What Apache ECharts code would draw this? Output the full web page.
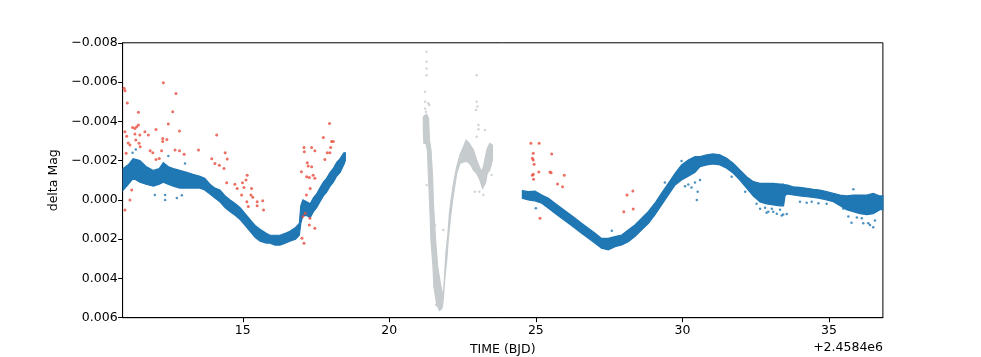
<!DOCTYPE html>
<html>
<head>
<meta charset="utf-8">
<script src="https://cdn.jsdelivr.net/npm/echarts@6/dist/echarts.min.js"></script>
<style>
  html, body { margin: 0; background: #fff; }
  #chart { width: 981px; height: 357px; }
</style>
</head>
<body>
<div id="chart"></div>
<script>
// values (x = TIME - 2458400, y = delta Mag)
var xTicks = [15, 20, 25, 30, 35];
var xOffsetText = '+2.4584e6';

// blue band before the gap: [x, upper edge, lower edge]
var blueBand1 = [
  [10.92, -0.0016, -0.0005], [11.10, -0.0018, -0.0008], [11.26, -0.0021, -0.0011],
  [11.49, -0.0020, -0.0009], [11.70, -0.0017, -0.0008], [11.95, -0.0015, -0.0007],
  [12.15, -0.0016, -0.0008], [12.29, -0.0019, -0.0009], [12.45, -0.0017, -0.0008],
  [12.63, -0.0016, -0.0007], [12.85, -0.0015, -0.0006], [13.09, -0.0014, -0.0006],
  [13.30, -0.0013, -0.0006], [13.54, -0.0012, -0.0006], [13.70, -0.0011, -0.0005],
  [13.88, -0.0008, -0.0003], [14.05, -0.0006, -0.0001], [14.22, -0.0005, 0.0001],
  [14.40, -0.0002, 0.0004], [14.57, 0.0000, 0.0006], [14.75, 0.0002, 0.0008],
  [14.91, 0.0004, 0.0010], [15.08, 0.0007, 0.0013], [15.25, 0.0010, 0.0016],
  [15.42, 0.0013, 0.0019], [15.59, 0.0015, 0.0021], [15.80, 0.0017, 0.0022],
  [15.93, 0.0018, 0.0022], [16.10, 0.0018, 0.0023], [16.27, 0.0018, 0.0023],
  [16.45, 0.0017, 0.0022], [16.61, 0.0016, 0.0021], [16.80, 0.0014, 0.0020],
  [16.93, 0.0012, 0.0018], [16.98, 0.0003, 0.0012], [17.05, 0.0000, 0.0008],
  [17.18, 0.0001, 0.0008], [17.30, 0.0002, 0.0009], [17.41, -0.0001, 0.0006],
  [17.52, -0.0003, 0.0004], [17.63, -0.0006, 0.0001], [17.75, -0.0009, -0.0002],
  [17.86, -0.0011, -0.0004], [17.98, -0.0014, -0.0007], [18.09, -0.0016, -0.0009],
  [18.20, -0.0019, -0.0012], [18.32, -0.0021, -0.0014], [18.45, -0.0024, -0.0018],
  [18.50, -0.0024, -0.0020]
];

// blue band after the gap
var blueBand2 = [
  [24.54, -0.00047, -0.00008], [24.74, -0.00042, 0.0000], [24.97, -0.00045, 0.00005],
  [25.20, -0.00025, 0.00017], [25.43, -0.00008, 0.00043], [25.65, 0.00017, 0.00068],
  [25.88, 0.00043, 0.00093], [26.11, 0.00068, 0.00119], [26.34, 0.00093, 0.00144],
  [26.56, 0.00119, 0.00170], [26.79, 0.00144, 0.00196], [27.02, 0.00170, 0.00221],
  [27.24, 0.00196, 0.00246], [27.47, 0.00196, 0.00255], [27.70, 0.00187, 0.00238],
  [27.93, 0.00179, 0.00230], [28.15, 0.00153, 0.00213], [28.38, 0.00128, 0.00187],
  [28.61, 0.00093, 0.00153], [28.84, 0.00059, 0.00119], [29.06, 0.00017, 0.00076],
  [29.29, -0.00034, 0.00025], [29.52, -0.00084, -0.00025], [29.75, -0.00135, -0.00076],
  [29.97, -0.00178, -0.00101], [30.20, -0.00203, -0.00120], [30.43, -0.00220, -0.00140],
  [30.60, -0.00220, -0.00169], [30.83, -0.00229, -0.00178], [31.05, -0.00234, -0.00183],
  [31.28, -0.00229, -0.00178], [31.51, -0.00212, -0.00161], [31.74, -0.00186, -0.00135],
  [31.96, -0.00152, -0.00101], [32.19, -0.00118, -0.00060], [32.42, -0.00093, -0.00020],
  [32.65, -0.00084, 0.00010], [32.87, -0.00084, 0.00020], [33.10, -0.00084, 0.00025],
  [33.33, -0.00081, 0.00030], [33.45, -0.00080, 0.00030], [33.50, -0.00076, -0.00020],
  [33.56, -0.00076, -0.00030], [33.78, -0.00067, -0.00025], [34.01, -0.00064, -0.00020],
  [34.24, -0.00059, -0.00016], [34.47, -0.00054, -0.00013], [34.69, -0.00050, -0.00008],
  [34.92, -0.00042, 0.00000], [35.15, -0.00033, 0.00009], [35.38, -0.00025, 0.00030],
  [35.60, -0.00020, 0.00050], [35.83, -0.00025, 0.00060], [36.06, -0.00025, 0.00070],
  [36.29, -0.00025, 0.00075], [36.51, -0.00033, 0.00070], [36.74, -0.00020, 0.00050],
  [36.84, -0.00020, 0.00050]
];

// outline of the grey part, traced round
var greyOutline = [
  [21.16, -0.00424], [21.27, -0.00437], [21.34, -0.00415], [21.37, -0.00305], [21.42, -0.00254],
  [21.47, -0.00135], [21.51, 0.00034], [21.58, 0.00204], [21.65, 0.00340], [21.75, 0.00433],
  [21.84, 0.00493], [21.89, 0.00374], [21.93, 0.00272], [22.00, 0.00170], [22.05, 0.00068],
  [22.12, -0.00016], [22.21, -0.00101], [22.30, -0.00169], [22.41, -0.00229], [22.53, -0.00271],
  [22.62, -0.00305], [22.73, -0.00288], [22.87, -0.00254], [22.98, -0.00203], [23.07, -0.00169],
  [23.15, -0.00144], [23.21, -0.00169], [23.28, -0.00220], [23.34, -0.00262], [23.43, -0.00288],
  [23.52, -0.00279], [23.52, -0.00203], [23.43, -0.00152], [23.34, -0.00135], [23.28, -0.00084],
  [23.18, -0.00059], [23.09, -0.00101], [22.98, -0.00135], [22.87, -0.00152], [22.78, -0.00178],
  [22.66, -0.00195], [22.55, -0.00195], [22.41, -0.00186], [22.30, -0.00135], [22.23, -0.00067],
  [22.16, 0.00001], [22.09, 0.00085], [22.01, 0.00204], [21.96, 0.00306], [21.89, 0.00408],
  [21.84, 0.00510], [21.80, 0.00552], [21.71, 0.00564], [21.62, 0.00535], [21.52, 0.00442],
  [21.49, 0.00340], [21.42, 0.00204], [21.38, 0.00034], [21.33, -0.00135], [21.30, -0.00254],
  [21.25, -0.00288], [21.18, -0.00288], [21.16, -0.00356]
];

// stray points
var blueStray = [
  [11.24, -0.0024], [11.35, -0.00256], [12.46, -0.00224], [13.03, -0.00185],
  [12.00, -0.00025], [12.35, -0.00025], [12.35, 0.0000], [12.75, -0.0001], [12.92, -0.00024],
  [25.00, 0.00043], [27.59, 0.00157], [29.40, -0.00088], [29.97, -0.00198],
  [30.49, 0.0000], [30.52, -0.00042], [30.43, -0.00088], [30.31, -0.00063], [30.20, -0.00078],
  [30.09, -0.0007], [30.60, -0.00101], [31.68, -0.00118], [32.14, -0.00042], [32.53, 0.0002],
  [32.65, 0.00045], [32.87, 0.00065], [32.93, 0.0006], [33.10, 0.0006], [33.22, 0.0007],
  [33.39, 0.0008], [33.44, 0.00075], [33.56, 0.00072], [33.05, 0.00045], [33.33, 0.0005],
  [32.82, 0.0004], [34.01, 0.00009], [34.24, 0.00014], [34.41, 0.00009], [34.64, 0.00017],
  [34.92, 0.0002], [35.66, 0.00085], [35.77, 0.00116], [35.95, 0.0009], [36.12, 0.00094],
  [36.17, 0.00119], [36.34, 0.00119], [36.51, 0.00139], [36.40, 0.00128], [36.57, 0.00105],
  [35.83, -0.00054], [35.49, 0.00045]
];

var redStray = [
  [10.95, -0.00568], [10.98, -0.00556], [11.06, -0.00494], [10.98, -0.00347], [11.04, -0.00324],
  [11.09, -0.0029], [11.15, -0.00279], [11.24, -0.00369], [11.32, -0.00364], [11.38, -0.00372],
  [11.44, -0.00381], [11.32, -0.00335], [11.49, -0.0033], [11.44, -0.00446], [11.35, -0.00305],
  [11.46, -0.00288], [11.50, -0.00271], [11.02, -0.00237], [10.98, 0.00051], [11.15, 0.0000],
  [11.21, -0.0005], [11.66, -0.00347], [11.78, -0.0033], [11.84, -0.0025], [11.93, -0.0024],
  [12.04, -0.00359], [12.04, -0.00206], [12.15, -0.00211], [12.23, -0.0025], [12.27, -0.00313],
  [12.27, -0.00297], [12.41, -0.00308], [12.29, -0.00597], [12.72, -0.00542], [12.61, -0.00449],
  [12.46, -0.00386], [12.84, -0.00351], [12.69, -0.00254], [12.84, -0.0025], [13.00, -0.00232],
  [13.49, -0.00254], [14.11, -0.0033], [13.94, -0.0021], [14.05, -0.00185], [14.20, -0.00177],
  [14.40, -0.0024], [14.47, -0.00208], [14.36, -0.0016], [14.45, -0.00087], [14.73, -0.0008],
  [14.81, -0.00058], [14.96, -0.00025], [14.99, -0.00087], [15.11, -0.00101], [15.15, -0.00126],
  [15.04, -0.00063], [15.30, -0.00058], [15.28, -0.00025], [15.34, -0.00013], [15.14, 0.00009],
  [15.19, 0.00034], [15.49, 0.00009], [15.49, 0.0003], [15.68, 0.00004], [15.71, 0.00051],
  [17.00, -0.00143], [17.09, -0.00267], [17.10, -0.00245], [17.20, -0.00189], [17.23, -0.00172],
  [17.35, -0.00267], [17.46, -0.0025], [17.35, -0.00169], [17.40, -0.00126], [17.46, -0.0011],
  [17.27, -0.00114], [17.18, -0.00118], [17.30, -0.00058], [17.17, -0.00025], [17.13, 0.00068],
  [17.05, 0.00085], [17.09, 0.00221], [17.02, 0.00196], [17.27, 0.00128], [17.46, 0.00145],
  [17.29, 0.00093], [17.75, -0.00318], [17.96, -0.00389], [17.80, -0.00206], [17.88, -0.0024],
  [17.97, -0.0024], [18.03, -0.00297], [18.09, -0.00297], [18.00, -0.00267],
  [24.83, -0.00288], [25.11, -0.00288], [24.91, -0.00237], [24.88, -0.00212], [24.91, -0.00203],
  [24.94, -0.00181], [24.91, -0.0013], [24.88, -0.00126], [24.92, -0.00105], [25.10, -0.00142],
  [25.48, -0.00142], [25.52, -0.00138], [25.54, -0.00234], [25.97, -0.00125], [25.74, -0.00081],
  [25.91, -0.00067], [25.14, 0.00094], [28.11, -0.00025], [28.31, -0.00045], [28.00, 0.0006],
  [28.32, 0.00046]
];

var greyStray = [
  [21.27, -0.00754], [21.27, -0.00703], [21.27, -0.00669], [21.27, -0.00635], [21.22, -0.00551],
  [21.22, -0.005], [21.22, -0.00466], [21.25, -0.00449], [21.33, -0.00492], [21.36, -0.00483],
  [22.98, -0.00635], [22.98, -0.005], [23.01, -0.00475], [22.96, -0.00458], [23.04, -0.00382],
  [23.04, -0.0036], [23.26, -0.00356], [22.98, -0.00322], [21.27, -0.00076], [21.84, 0.00153],
  [21.56, 0.00128], [22.92, -0.00042], [23.07, -0.00042], [23.21, -0.00025], [23.49, -0.00127],
  [21.59, 0.00535], [21.75, 0.00552]
];

var BLUE = '#1f77b4';
var RED = '#e74c3c';
var GREY = '#c6cbce';
var FONT = 'DejaVu Sans';

function bandOutline(band) {
  var top = band.map(function (d) { return [d[0], d[1]]; });
  var bottom = band.slice().reverse().map(function (d) { return [d[0], d[2]]; });
  return top.concat(bottom);
}

function polygonSeries(outline, color) {
  return {
    type: 'custom',
    data: outline,
    silent: true,
    clip: true,
    renderItem: function (params, api) {
      if (params.dataIndex !== 0) return null;
      var pts = outline.map(function (p) { return api.coord(p); });
      return {
        type: 'polygon',
        shape: { points: pts },
        style: { fill: color, stroke: color, lineWidth: 1.2 }
      };
    }
  };
}

function dots(data, color, size) {
  return {
    type: 'scatter',
    data: data,
    symbolSize: size,
    silent: true,
    itemStyle: { color: color },
    animation: false
  };
}

var chart = echarts.init(document.getElementById('chart'));
chart.setOption({
  animation: false,
  grid: {
    left: 122.6, right: 98.1, top: 42.8, bottom: 39.3,
    outerBoundsMode: 'none', containLabel: false,
    show: true, borderColor: '#000', borderWidth: 1
  },
  xAxis: {
    type: 'value',
    min: 10.90,
    max: 36.84,
    name: 'TIME (BJD)',
    nameLocation: 'middle',
    nameGap: 26,
    nameTextStyle: { fontFamily: FONT, fontSize: 12.5, color: '#000' },
    axisLine: { show: true, onZero: false, lineStyle: { color: '#000', width: 1 } },
    axisTick: { show: true, inside: false, length: 4.5, customValues: xTicks, lineStyle: { color: '#000' } },
    axisLabel: {
      customValues: xTicks, margin: 7,
      fontFamily: FONT, fontSize: 12.5, color: '#000',
      formatter: function (v) { return String(v); }
    },
    splitLine: { show: false }
  },
  yAxis: {
    type: 'value',
    inverse: true,
    min: -0.008,
    max: 0.006,
    interval: 0.002,
    name: 'delta Mag',
    nameLocation: 'middle',
    nameGap: 55,
    nameRotate: 90,
    nameTextStyle: { fontFamily: FONT, fontSize: 12.5, color: '#000' },
    axisLine: { show: true, onZero: false, lineStyle: { color: '#000', width: 1 } },
    axisTick: { show: true, inside: false, length: 4.5, lineStyle: { color: '#000' } },
    axisLabel: {
      margin: 5,
      fontFamily: FONT, fontSize: 12.5, color: '#000',
      formatter: function (v) {
        return (v < -1e-9 ? '\u2212' : '') + Math.abs(v).toFixed(3);
      }
    },
    splitLine: { show: false }
  },
  graphic: [{
    type: 'text',
    x: 883,
    y: 348,
    style: { text: xOffsetText, fontFamily: FONT, fontSize: 12.5, fill: '#000', textAlign: 'right', textVerticalAlign: 'middle' }
  }],
  series: [
    polygonSeries(greyOutline, GREY),
    dots(greyStray, GREY, 2.5),
    polygonSeries(bandOutline(blueBand1), BLUE),
    polygonSeries(bandOutline(blueBand2), BLUE),
    dots(blueStray, BLUE, 2.5),
    dots(redStray, RED, 3)
  ]
});
</script>
</body>
</html>
